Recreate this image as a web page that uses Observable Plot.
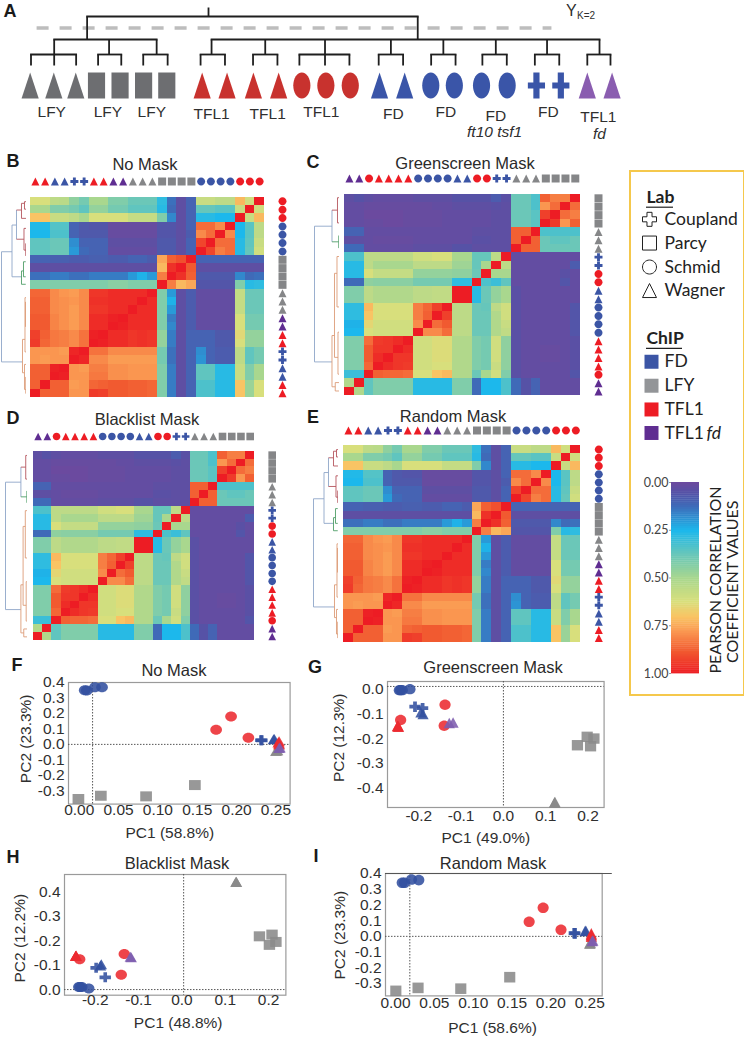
<!DOCTYPE html>
<html><head><meta charset="utf-8">
<script src="https://cdn.jsdelivr.net/npm/d3@7"></script>
<script src="https://cdn.jsdelivr.net/npm/@observablehq/plot@0.6"></script>
<style>
html,body{margin:0;padding:0;background:#fff}
#fig{position:relative;width:744px;height:1038px;overflow:hidden;font-family:"Liberation Sans",sans-serif;color:#2a2a2a}
#fig svg{position:absolute;background:transparent;max-width:none}
.t{position:absolute;white-space:nowrap;transform:translate(-50%,-50%);line-height:1}
</style></head><body><div id="fig"></div>
<script>
// ---------- palette / categories ----------
const chipColor = {FD:"#3b55a5", LFY:"#858688", TFL1:"#ed1c24", fd:"#5f2d91"};
const pcaColor = {FD:"#32509f", LFY:"#8a8a8a", TFL1:"#ec2a30", fd:"#7d5cae"};
const labs = ["Coupland","Parcy","Schmid","Wagner"];
const heatStops = [0,0.05,0.12,0.25,0.37,0.5,0.62,0.7,0.78,0.88,1];
const heatColors = ["#6b4a9f","#5652a6","#3f6ab8","#1cb8ec","#66c6bb","#a9d78e","#d8df7c","#f9c464","#fa9650","#f15a30","#ed1c24"];
const SANS = "Liberation Sans";

// ---------- panel A ----------
const aLeafX = [24.3,43.7,61.7,78.7,98,117.3,136.3,165.3,185.7,207.3,228,247,266.7,286.7,310.7,331.3,352.7,372,394.3,415.3,439.3,459.3,481,501.3];
const aLeafChip = ["LFY","LFY","LFY","LFY","LFY","LFY","LFY","TFL1","TFL1","TFL1","TFL1","TFL1","TFL1","TFL1","FD","FD","FD","FD","FD","FD","FD","FD","fd","fd"];
const aLeafLab = ["Wagner","Wagner","Wagner","Parcy","Parcy","Parcy","Parcy","Wagner","Wagner","Wagner","Wagner","Schmid","Schmid","Schmid","Wagner","Wagner","Schmid","Schmid","Schmid","Schmid","Coupland","Coupland","Wagner","Wagner"];
const aColors = {LFY:"#6d6e71",TFL1:"#c8322e",FD:"#3a55a8",fd:"#8a5db0"};
const aHoriz = [[71,342,16],[44,128,39],[173,491,39],[25,62,54],[80,99,54],[117,137,54],[164,184,54],[207,227,54],[245,286,54],[310,330,54],[353,373,54],[395,415,54],[438,458,54],[481,500,54]];
const aVert = [[170.5,7,16],[71,16,39],[342,16,39],[44,39,54],[89,39,54],[128,39,54],[173,39,54],[217,39,54],[266,39,54],[320,39,54],[363,39,54],[406,39,54],[448,39,54],[491,39,54],
 [25,54,65],[44,54,65],[62,54,65],[80,54,65],[99,54,65],[117,54,65],[137,54,65],[164,54,65],[184,54,65],[207,54,65],[227,54,65],[245,54,65],[266,54,65],[286,54,65],[310,54,65],[330,54,65],[353,54,65],[373,54,65],[395,54,65],[415,54,65],[438,54,65],[458,54,65],[481,54,65],[500,54,65]];
const aLabels = [["LFY",42,112],["LFY",88,112],["LFY",124,112],["TFL1",173,114],["TFL1",219,114],["TFL1",263,112],["FD",322,114],["FD",365,112],["FD",406,116],["FD",449,112],["TFL1",490,117]];
const aItalic = [["ft10 tsf1",405,132],["fd",491,134]];

// ---------- heatmaps: rows listed top to bottom, percent correlation ----------
const noMaskChip = ["TFL1","TFL1","FD","FD","FD","FD","TFL1","TFL1","fd","fd","LFY","LFY","LFY","LFY","LFY","LFY","LFY","FD","FD","FD","FD","TFL1","TFL1","TFL1"];
const noMaskLab = ["Wagner","Wagner","Wagner","Wagner","Coupland","Coupland","Wagner","Wagner","Wagner","Wagner","Wagner","Wagner","Wagner","Parcy","Parcy","Parcy","Parcy","Schmid","Schmid","Schmid","Schmid","Schmid","Schmid","Schmid"];
const noMaskRows = [
[62,62,55,54,45,40,50,50,42,42,38,38,38,28,13,3,10,58,58,55,55,72,60,100],
[50,50,42,42,40,36,46,46,40,40,36,36,36,27,12,3,10,37,37,35,35,58,100,60],
[70,70,58,58,55,50,62,62,62,62,57,57,57,42,17,3,10,27,27,25,25,100,58,72],
[26,26,34,34,10,7,6,6,1,1,1,1,1,6,6,3,10,85,85,80,100,25,35,55],
[25,25,33,33,10,7,7,7,1,1,1,1,1,6,6,3,8,80,85,100,80,25,35,55],
[36,36,38,38,18,10,10,10,3,3,3,3,3,7,7,3,10,92,100,85,85,27,36,58],
[36,36,38,38,20,12,10,10,2,2,2,2,2,7,7,3,10,100,92,82,85,27,37,60],
[10,10,9,9,8,8,9,9,8,8,10,10,8,75,87,90,100,10,10,10,10,10,10,10],
[3,3,3,3,3,3,3,3,3,3,3,3,3,72,96,100,88,3,3,3,3,3,3,3],
[13,13,15,15,13,13,15,15,15,15,20,24,20,82,100,96,87,7,7,7,7,17,12,13],
[42,42,42,42,42,42,42,42,44,44,42,42,42,100,82,72,75,6,6,6,6,42,27,28],
[86,86,80,78,77,80,95,95,97,97,97,97,100,42,20,3,8,2,2,2,2,57,38,38],
[87,87,80,79,78,80,96,96,97,97,97,100,97,42,24,3,8,2,2,2,2,57,38,38],
[87,87,80,79,77,80,95,95,97,97,100,97,97,42,20,3,8,2,2,2,2,57,38,38],
[88,88,81,79,77,80,97,97,99,100,97,97,97,42,15,3,8,2,2,2,2,62,40,40],
[88,88,81,79,77,80,97,97,100,99,97,97,97,42,17,3,8,2,2,2,2,62,40,40],
[93,87,83,82,80,84,99,100,97,97,95,96,95,46,15,3,10,10,10,7,7,64,46,46],
[94,86,83,82,80,84,100,99,97,97,95,96,95,46,15,3,10,10,10,7,7,62,46,46],
[78,78,78,77,98,100,84,84,80,80,80,80,80,40,13,3,10,18,10,8,8,55,36,40],
[78,77,78,78,100,98,80,80,77,77,77,77,77,40,13,3,10,19,10,8,8,55,36,40],
[87,87,99,100,78,77,82,82,79,79,78,78,78,42,15,3,10,36,36,27,27,58,42,50],
[87,87,100,99,78,78,83,83,79,79,78,78,78,42,15,3,10,36,36,27,27,58,42,50],
[87,100,87,87,77,78,86,87,88,88,87,87,86,42,15,3,10,33,33,27,27,70,47,62],
[100,87,87,87,78,78,94,93,88,88,87,87,86,42,15,3,10,33,33,27,27,70,47,62]];
const randomMaskRows = noMaskRows;

const greenChip = ["fd","fd","TFL1","TFL1","TFL1","TFL1","TFL1","FD","FD","FD","FD","FD","FD","TFL1","TFL1","FD","FD","LFY","LFY","LFY","LFY","LFY","LFY","LFY"];
const greenLab = ["Wagner","Wagner","Schmid","Wagner","Wagner","Wagner","Wagner","Schmid","Schmid","Schmid","Schmid","Wagner","Wagner","Schmid","Schmid","Coupland","Coupland","Wagner","Wagner","Wagner","Parcy","Parcy","Parcy","Parcy"];
const greenRows = [
[3,5,3,2,2,2,2,3,3,3,3,5,5,5,5,8,4,38,38,33,87,82,82,100],
[2,2,1,1,1,1,1,1,1,2,2,3,3,3,3,4,3,38,38,33,78,85,100,85],
[2,2,0,0,0,0,1,1,1,1,2,2,2,2,2,3,3,38,38,35,93,100,85,82],
[2,2,1,1,0,0,1,1,1,1,2,2,2,2,2,3,3,38,38,35,100,94,78,87],
[10,10,2,2,2,2,2,2,2,2,2,2,2,3,3,3,3,87,87,100,33,33,33,33],
[3,3,2,1,1,1,1,2,2,2,2,2,2,4,4,3,3,87,100,87,38,36,36,38],
[12,12,2,2,2,2,2,3,3,3,3,5,5,3,3,3,3,100,87,87,38,38,38,38],
[33,33,55,55,55,55,55,60,60,62,62,50,50,37,37,55,100,2,2,2,2,2,2,2],
[27,27,55,50,50,50,50,55,55,55,55,48,48,37,50,100,55,2,2,2,2,2,2,8],
[27,27,62,57,57,57,57,46,46,46,46,45,45,38,100,50,50,2,2,2,2,2,4,2],
[12,12,45,44,44,44,44,40,40,40,40,28,28,100,33,30,36,2,2,2,2,2,6,2],
[42,42,55,52,52,52,52,55,55,56,56,100,100,27,38,46,50,4,2,2,2,2,2,2],
[42,42,55,52,52,52,52,55,55,56,56,100,100,27,38,46,50,4,2,2,2,2,2,2],
[28,28,72,62,62,62,62,82,86,93,100,55,55,38,37,55,60,4,2,2,2,2,2,6],
[28,28,70,62,62,62,62,82,87,100,93,55,55,38,38,52,60,4,2,2,2,2,2,6],
[24,24,65,60,60,60,60,80,100,85,88,55,55,38,38,52,58,4,2,2,2,2,2,6],
[25,25,62,60,60,60,60,100,80,80,85,55,55,38,38,52,56,4,2,2,2,2,2,6],
[42,42,85,94,95,97,100,60,60,63,63,52,52,42,40,60,45,4,2,2,2,2,2,4],
[42,42,88,95,95,100,97,60,60,63,63,52,52,42,40,60,45,4,2,2,1,1,2,4],
[42,42,88,97,100,95,95,60,60,63,63,52,52,42,40,60,45,4,2,2,1,1,2,4],
[42,42,86,100,97,95,94,60,60,62,62,52,52,42,40,58,45,4,2,2,2,2,2,4],
[30,30,100,87,86,86,85,62,62,70,72,52,52,38,50,60,42,4,2,2,2,2,2,6],
[52,100,36,42,42,42,42,27,27,27,27,42,42,12,25,25,33,12,5,10,2,2,2,2],
[100,52,36,42,42,42,42,27,27,27,27,42,42,12,25,25,33,12,5,10,2,2,2,2]];
const blacklistRows = greenRows;

// ---------- dendrograms: [group, dist1, row1, dist2, row2] ----------
const treeNoMask = [
["root",1,6,1,19.2],["root",1,6,.58,6],["root",1,19.2,.16,19.2],["root",.58,2.8,.58,9],["root",.58,2.8,.4,2.8],["root",.58,9,.18,9],["root",.4,1,.4,4.5],
["red",.4,1,.2,1],["red",.2,.2,.2,2],["red",.2,.2,.08,.2],["red",.08,0,.08,.9],["red",.2,2,.02,2],["red",.08,0,.02,0],["red",.08,.9,.02,.9],["red",.4,4.5,.1,4.5],["red",.1,3.2,.1,5.8],["red",.1,3.2,.02,3.2],["red",.1,5.8,.02,5.8],["red",.03,5,.03,6.5],
["green",.2,8.3,.2,9.9],["green",.2,9.9,.03,9.9],["green",.2,8.3,.12,8.3],["green",.12,7.2,.12,9],["green",.12,7.2,.03,7.2],["green",.12,9,.03,9],
["orange",.16,16.5,.16,20.5],["orange",.16,16.5,.06,16.5],["orange",.06,11.5,.06,18],["orange",.06,11.5,.02,11.5],["orange",.04,12,.04,15],["orange",.06,18,.02,18],["orange",.16,20.5,.08,20.5],["orange",.08,19.5,.08,22.5],["orange",.08,19.5,.02,19.5],["orange",.08,22.5,.02,22.5],["orange",.03,21,.03,23]];
const treeGreen = [
["root",1,3.39,1,19.54],["root",1,3.39,.3,3.39],["root",1,19.54,.3,19.54],["root",.3,1.48,.3,5.25],
["red",.3,1.48,.08,1.48],["red",.08,0,.08,3],["red",.08,0,.02,0],["red",.08,3,.02,3],
["green",.3,5.25,.03,5.25],["green",.03,4.5,.03,6],
["orange",.3,16.4,.3,22.5],["orange",.3,16.4,.2,16.4],["orange",.2,9,.2,19],["orange",.2,9,.1,9],["orange",.1,7,.1,13],["orange",.1,7,.02,7],["orange",.1,13,.02,13],["orange",.2,19,.06,19],["orange",.06,16,.06,21],["orange",.06,16,.02,16],["orange",.06,21,.02,21],["orange",.3,22.5,.17,22.5],["orange",.17,22,.17,23],["orange",.17,22,.02,22],["orange",.17,23,.02,23]];
const treeColor = {root:"#8ea6c8",red:"#b5565e",green:"#4f9e68",orange:"#dd9c78"};

// ---------- PCA samples (same order in every panel) ----------
const pcaChip = ["LFY","LFY","LFY","LFY","LFY","LFY","LFY","FD","FD","FD","FD","TFL1","TFL1","TFL1","FD","FD","FD","FD","TFL1","TFL1","TFL1","TFL1","fd","fd"];
const pcaLab = ["Wagner","Wagner","Wagner","Parcy","Parcy","Parcy","Parcy","Schmid","Schmid","Schmid","Schmid","Schmid","Schmid","Schmid","Coupland","Coupland","Wagner","Wagner","Wagner","Wagner","Wagner","Wagner","Wagner","Wagner"];
const fX = [.251,.25,.252,-.001,.0275,.085,.147,.007,.0097,.02,.029,.174,.193,.215,.232,.231,.248,.247,.254,.254,.253,.254,.254,.255];
const fY = [-.04,-.042,-.038,-.353,-.332,-.336,-.263,.35,.348,.37,.369,.095,.18,.043,.026,.027,.035,.033,.02,0,.012,.006,-.024,-.02];
const gX = [.121,.121,.122,.175,.198,.214,.206,-.246,-.243,-.239,-.221,-.138,-.14,-.243,-.209,-.191,-.19,-.195,-.25,-.248,-.25,-.249,-.128,-.119];
const gY = [-.458,-.458,-.456,-.226,-.192,-.199,-.23,-.003,-.003,-.003,.001,-.062,-.147,-.124,-.07,-.076,-.1,-.093,-.147,-.151,-.149,-.148,-.136,-.134];
const hX = [.125,.125,.126,.179,.208,.217,.202,-.238,-.231,-.235,-.215,-.236,-.133,-.14,-.198,-.177,-.186,-.188,-.245,-.245,-.244,-.245,-.119,-.117];
const hY = [.441,.441,.44,.218,.225,.195,.183,.011,.011,.011,.004,.124,.146,.061,.089,.05,.104,.099,.138,.138,.139,.137,.134,.132];
const iX = [.25,.25,.251,.0004,.029,.084,.147,.0086,.0116,.0206,.03,.172,.19,.213,.231,.23,.245,.244,.252,.252,.252,.252,.253,.254];
const iY = [-.044,-.046,-.042,-.347,-.328,-.333,-.26,.341,.341,.362,.358,.093,.182,.042,.019,.02,.036,.034,.019,-.002,.01,.005,-.03,-.026];

// ---------- legend ----------
const labRows = [.93,1.93,2.94,3.93];
const chipKeys = [["FD","FD"],["LFY","LFY"],["TFL1","TFL1"],["fd","TFL1"]];
const chipRows = [6.93,7.94,8.94,9.93];
const barTicks = [0,.25,.5,.75,1];

// ---------- helpers ----------
const fig = document.getElementById("fig");
function put(el,left,top){el.style.left=left+"px";el.style.top=top+"px";fig.appendChild(el);return el;}
function label(text,x,y,size,extra={}){const d=document.createElement("div");d.className="t";d.textContent=text;d.style.left=x+"px";d.style.top=y+"px";d.style.fontSize=size+"px";Object.assign(d.style,extra);fig.appendChild(d);}
function shape(kind,aspect=1){return {draw(ctx,size){
  const r=Math.sqrt(size/Math.PI), w=r*aspect;
  if(kind==="Parcy"){ctx.moveTo(-w,-r);ctx.lineTo(w,-r);ctx.lineTo(w,r);ctx.lineTo(-w,r);ctx.closePath();}
  else if(kind==="Wagner"){ctx.moveTo(0,-r);ctx.lineTo(w,r);ctx.lineTo(-w,r);ctx.closePath();}
  else if(kind==="Coupland"){const t=.36*Math.min(w,r);ctx.moveTo(-t,-r);ctx.lineTo(t,-r);ctx.lineTo(t,-t);ctx.lineTo(w,-t);ctx.lineTo(w,t);ctx.lineTo(t,t);ctx.lineTo(t,r);ctx.lineTo(-t,r);ctx.lineTo(-t,t);ctx.lineTo(-w,t);ctx.lineTo(-w,-t);ctx.lineTo(-t,-t);ctx.closePath();}
  else{const k=.5523,a=w*k,b=r*k;ctx.moveTo(w,0);ctx.bezierCurveTo(w,b,a,r,0,r);ctx.bezierCurveTo(-a,r,-w,b,-w,0);ctx.bezierCurveTo(-w,-b,-a,-r,0,-r);ctx.bezierCurveTo(a,-r,w,-b,w,0);ctx.closePath();}
}};}
const symbolScale = (aspect)=>({domain:labs,range:labs.map(l=>shape(l,aspect))});
const colorScale = {type:"linear",domain:heatStops,range:heatColors,interpolate:"rgb",clamp:true};

// ---------- panel A ----------
{
  const leaves = aLeafX.map((x,i)=>({x,chip:aLeafChip[i],lab:aLeafLab[i]}));
  const txt = {fontFamily:SANS,fontSize:15.5,fill:"#2f2f2f"};
  put(Plot.plot({width:640,height:145,margin:0,
    x:{domain:[0,524.6],axis:null},y:{domain:[145,0],axis:null},
    symbol:symbolScale(.66),
    marks:[
      Plot.ruleY([27.5],{x1:30,x2:452,stroke:"#bdbdbd",strokeWidth:3.4,strokeDasharray:"12,11"}),
      Plot.link(aHoriz,{x1:d=>d[0],x2:d=>d[1],y1:d=>d[2],y2:d=>d[2],stroke:"#1f1f1f",strokeWidth:1.8,strokeLinecap:"square"}),
      Plot.link(aVert,{x1:d=>d[0],x2:d=>d[0],y1:d=>d[1],y2:d=>d[2],stroke:"#1f1f1f",strokeWidth:1.8}),
      Plot.dot(leaves,{x:"x",y:()=>85,symbol:"lab",fill:d=>aColors[d.chip],r:13}),
      Plot.text(aLabels,{x:d=>d[1],y:d=>d[2],text:d=>d[0],...txt}),
      Plot.text(aItalic,{x:d=>d[1],y:d=>d[2],text:d=>d[0],fontStyle:"italic",...txt}),
      Plot.text(["Y"],{x:468,y:10,...txt,fontSize:16}),
      Plot.text(["K=2"],{x:480,y:15,...txt,fontSize:10})
    ]}),0,0);
}

// ---------- heat panels ----------
function heat({rows,chip,lab,x0,x1,y0,y1,topY,rightX,r,tree,dx0,dx1}){
  const n=rows.length, cells=[];
  rows.forEach((row,i)=>row.forEach((v,j)=>cells.push({i,j,v:v/100})));
  const mT=y0-topY+8, mR=rightX-x1+8, mL=2, mB=2;
  const cols=d3.range(n).map(j=>({j,chip:chip[j],lab:lab[j]}));
  const side=d3.range(n).map(i=>({i,chip:chip[n-1-i],lab:lab[n-1-i]}));
  put(Plot.plot({width:x1-x0+mL+mR,height:y1-y0+mT+mB,marginTop:mT,marginRight:mR,marginLeft:mL,marginBottom:mB,
    x:{type:"band",domain:d3.range(n),padding:0,round:false,axis:null},
    y:{type:"band",domain:d3.range(n),padding:0,round:false,axis:null},
    color:colorScale,symbol:symbolScale(1),
    marks:[
      Plot.cell(cells,{x:"j",y:"i",fill:"v",shapeRendering:"crispEdges"}),
      Plot.dot(cols,{x:"j",frameAnchor:"top",dy:-(y0-topY),symbol:"lab",fill:d=>chipColor[d.chip],r}),
      Plot.dot(side,{y:"i",frameAnchor:"right",dx:rightX-x1,symbol:"lab",fill:d=>chipColor[d.chip],r})
    ]}),x0-mL,y0-mT);
  put(Plot.plot({width:dx1-dx0,height:y1-y0,margin:0,
    x:{domain:[1,0],axis:null},y:{domain:[-.5,n-.5],reverse:true,axis:null},
    marks:[Plot.link(tree,{x1:d=>d[1],y1:d=>d[2],x2:d=>d[3],y2:d=>d[4],stroke:d=>treeColor[d[0]],strokeWidth:.9})]}),dx0,y0);
}
heat({rows:noMaskRows,chip:noMaskChip,lab:noMaskLab,x0:30,x1:264,y0:196.7,y1:397,topY:181,rightX:282,r:4,tree:treeNoMask,dx0:1,dx1:26});
heat({rows:greenRows,chip:greenChip,lab:greenLab,x0:344.3,x1:580,y0:193.3,y1:395,topY:177.7,rightX:598.3,r:4,tree:treeGreen,dx0:314,dx1:339});
heat({rows:blacklistRows,chip:greenChip,lab:greenLab,x0:33,x1:254.3,y0:450.7,y1:640,topY:436,rightX:271.7,r:3.8,tree:treeGreen,dx0:5,dx1:27});
heat({rows:randomMaskRows,chip:noMaskChip,lab:noMaskLab,x0:342.7,x1:580,y0:445,y1:641.7,topY:430,rightX:598,r:4,tree:treeNoMask,dx0:313,dx1:338});

// ---------- PCA panels ----------
function pca({xs,ys,box,xDomain,yDomain,xTicks,xFmt,yTicks,yLabels,rx,ry,xLabel,yLabel,aspect,r,tickDy,xAt,yAt,topLine}){
  const [x0,y0,x1,y1]=box, mL=60,mT=14,mR=14,mB=46;
  const pts=xs.map((x,i)=>({x,y:ys[i],chip:pcaChip[i],lab:pcaLab[i]}));
  const fmtY=yLabels?(d=>yLabels[yTicks.indexOf(d)]):(d=>d.toFixed(1));
  const txt={fontFamily:SANS,fontSize:15.5,fill:"#2f2f2f"};
  put(Plot.plot({width:x1-x0+mL+mR,height:y1-y0+mT+mB,marginLeft:mL,marginTop:mT,marginRight:mR,marginBottom:mB,
    x:{domain:xDomain,axis:null},y:{domain:yDomain,axis:null},symbol:symbolScale(aspect),
    marks:[
      Plot.frame({stroke:"#9a9a9a",strokeWidth:1.2}),
      Plot.ruleX([rx],{stroke:"#555",strokeWidth:1,strokeDasharray:"1.5,1.5"}),
      Plot.ruleY([ry],{stroke:"#555",strokeWidth:1,strokeDasharray:"1.5,1.5"}),
      ...(topLine?[Plot.ruleY([yDomain[1]],{x1:xDomain[0],x2:topLine,stroke:"#555",strokeWidth:1.2})]:[]),
      Plot.text(xTicks,{x:d=>d,frameAnchor:"bottom",dy:tickDy,text:xFmt,...txt}),
      Plot.text(yTicks,{y:d=>d,frameAnchor:"left",dx:-4,textAnchor:"end",text:fmtY,...txt}),
      Plot.text([xLabel],{frameAnchor:"top-left",dx:xAt[0]-x0,dy:xAt[1]-y0,textAnchor:"middle",lineAnchor:"middle",...txt}),
      Plot.text([yLabel],{frameAnchor:"top-left",dx:yAt[0]-x0,dy:yAt[1]-y0,rotate:-90,textAnchor:"middle",lineAnchor:"middle",...txt}),
      Plot.dot(pts,{x:"x",y:"y",symbol:"lab",fill:d=>pcaColor[d.chip],fillOpacity:.88,r})
    ]}),x0-mL,y0-mT);
}
const f2=d=>d.toFixed(2), f1=d=>d.toFixed(1);
pca({xs:fX,ys:fY,box:[67.7,681.7,289.3,803.3],xDomain:[-.0136,.268],yDomain:[-.386,.4],xTicks:[0,.05,.1,.15,.2,.25],xFmt:f2,yTicks:[.4,.3,.2,.1,0,-.1,-.2,-.3],rx:.017,ry:0,xLabel:"PC1 (58.8%)",yLabel:"PC2 (23.3%)",aspect:1.17,r:5,tickDy:10.7,xAt:[169,832],yAt:[25,738]});
pca({xs:gX,ys:gY,box:[386.7,680.7,603.3,806.7],xDomain:[-.274,.238],yDomain:[-.478,.032],xTicks:[-.2,-.1,0,.1,.2],xFmt:f1,yTicks:[0,-.1,-.2,-.3,-.4],rx:0,ry:.012,xLabel:"PC1 (49.0%)",yLabel:"PC2 (12.3%)",aspect:1.08,r:5.2,tickDy:14,xAt:[485,837],yAt:[338,737]});
pca({xs:hX,ys:hY,box:[64.3,874.3,285.7,995],xDomain:[-.271,.24],yDomain:[-.023,.471],xTicks:[-.2,-.1,0,.1,.2],xFmt:f1,yTicks:[.4,.3,.2,.1,0],yLabels:["0.4","-0.3","-0.2","-0.1","0.0"],rx:.004,ry:0,xLabel:"PC1 (48.8%)",yLabel:"PC2 (12.2%)",aspect:1.14,r:5,tickDy:10,xAt:[178,1023],yAt:[20,938]});
pca({xs:iX,ys:iY,box:[385,873.3,601.7,995.7],xDomain:[-.0129,.266],yDomain:[-.379,.4],xTicks:[0,.05,.1,.15,.2,.25],xFmt:f2,yTicks:[.4,.3,.2,.1,0,-.1,-.2,-.3],rx:.0184,ry:0,xLabel:"PC1 (58.6%)",yLabel:"PC2 (23.3%)",aspect:1.05,r:5.3,tickDy:12,xAt:[492,1028],yAt:[340,935],topLine:.279});

// ---------- legend ----------
{
  const box=document.createElement("div");
  box.style.cssText="position:absolute;left:629px;top:170px;width:112px;height:522px;border:2px solid #f5c84c";
  fig.appendChild(box);
  const labItems=labs.map((l,i)=>({l,row:labRows[i]}));
  const chipItems=chipKeys.map(([k,t],i)=>({k,t,row:chipRows[i]}));
  const txt={fontFamily:"Lato",fontSize:17.5,fill:"#222"};
  put(Plot.plot({width:114,height:273,margin:0,
    x:{domain:[0,114],axis:null},y:{domain:[10.5,-1],axis:null},symbol:symbolScale(1),
    marks:[
      Plot.text(["Lab"],{x:17,y:0,textAnchor:"start",fontWeight:"bold",...txt}),
      Plot.ruleY([.42],{x1:17,x2:44,stroke:"#222",strokeWidth:1.2}),
      Plot.text(["ChIP"],{x:17,y:5.95,textAnchor:"start",fontWeight:"bold",...txt}),
      Plot.ruleY([6.37],{x1:17,x2:53,stroke:"#222",strokeWidth:1.2}),
      Plot.dot(labItems,{x:()=>20,y:"row",symbol:"l",fill:"none",stroke:"#222",strokeWidth:1,r:7}),
      Plot.text(labItems,{x:()=>35,y:"row",text:"l",textAnchor:"start",...txt}),
      Plot.dot(chipItems,{x:()=>22,y:"row",symbol:()=>"Parcy",fill:d=>d.k==="LFY"?"#939598":chipColor[d.k],r:7}),
      Plot.text(chipItems,{x:()=>35,y:"row",text:"t",textAnchor:"start",...txt}),
      Plot.text(["fd"],{x:77,y:9.93,textAnchor:"start",fontStyle:"italic",...txt})
    ]}),629,173.3);
  const steps=d3.range(0,1,.01);
  const mT=8,mB=8,mL=41,mR=45;
  const rot={rotate:-90,textAnchor:"start",fontFamily:"Lato",fontSize:16,fill:"#222"};
  put(Plot.plot({width:28+mL+mR,height:191+mT+mB,marginTop:mT,marginBottom:mB,marginLeft:mL,marginRight:mR,
    x:{domain:[0,1],axis:null},y:{domain:[1,0]},color:colorScale,
    marks:[
      Plot.rect(steps,{x1:0,x2:1,y1:d=>d,y2:d=>d+.012,fill:d=>d}),
      Plot.axisY({ticks:barTicks,tickFormat:f2,tickSize:2,tickPadding:1,stroke:"#999",label:null,fontFamily:"Lato",fontSize:12.5,fill:"#444"}),
      Plot.text(["PEARSON CORRELATION"],{x:1.58,y:1,...rot}),
      Plot.text(["COEFFICIENT VALUES"],{x:2.19,y:.945,...rot})
    ]}),670.7-mL,482-mT);
}

// ---------- letters and titles ----------
const letters=[["A",10,11],["B",13,161],["C",313,162],["D",13,418],["E",313,417],["F",17,665],["G",315,667],["H",13,857],["I",316,856]];
letters.forEach(([t,x,y])=>label(t,x,y,18,{fontWeight:"bold",color:"#1a1a1a"}));
const titles=[["No Mask",145,164],["Greenscreen Mask",465,163],["Blacklist Mask",147,419],["Random Mask",453,416],["No Mask",174,670],["Greenscreen Mask",493,667],["Blacklist Mask",177,863],["Random Mask",493,863]];
titles.forEach(([t,x,y])=>label(t,x,y,16.5));
</script></body></html>
